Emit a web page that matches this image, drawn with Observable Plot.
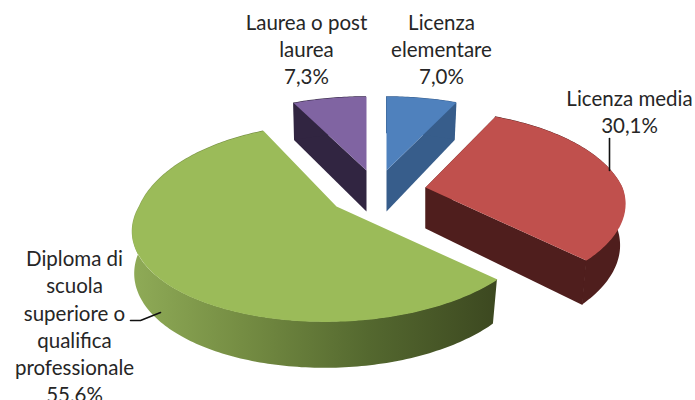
<!DOCTYPE html>
<html>
<head>
<meta charset="utf-8">
<script src="https://cdn.jsdelivr.net/npm/d3@7"></script>
<script src="https://cdn.jsdelivr.net/npm/@observablehq/plot@0.6"></script>
<style>html,body{margin:0;padding:0;background:#fff}svg{display:block}</style>
</head>
<body>
<div id="chart"></div>
<script>
// Data: in drawing order of the pie, clockwise from 12 o'clock
const categories = ["Licenza elementare", "Licenza media", "Diploma di scuola superiore o qualifica professionale", "Laurea o post laurea"];
const values = [7.0, 30.1, 55.6, 7.3];
const labelLines = [["Licenza", "elementare"], ["Licenza media"], ["Diploma di", "scuola", "superiore o", "qualifica", "professionale"], ["Laurea o post", "laurea"]];

// Styles
const topColors = ["#4f81bd", "#c0504d", "#9bbb59", "#8064a2"];
const wallColors = ["#375d8b", "#4f1e1d", "url(#greenWall)", "#312541"];
const radialColors = ["#375d8b", "#4f1e1d", "#4f612b", "#312541"];

// Layout of the exploded 3D pie
const apexes = [[386, 170], [425, 187], [336, 206], [366, 170]];
const backScale = [1, 1.04, 1.12, 1];
const labelPos = [[441, 21], [629, 97], [74, 257], [306, 21]];
const lineStep = [27, 27, 27.2, 27];
const leaders = [
  [[609, 138], [609, 170]],
  [[130, 320], [140, 320], [160, 312]]
];
const A = 197, B = 90, K = 0.22, DEPTH = 41, SHRINK_LEFT = 0.988, SHRINK_RIGHT = 0.975, SHEAR = 0.1;

const fmt = (v) => v.toFixed(1).replace(".", ",") + "%";
const total = d3.sum(values);

function project(phi, i) {
  const s = 1 / (1 + K * Math.cos(phi));
  const raw = -B * Math.cos(phi) * s;
  const dy = raw < 0 ? raw * backScale[i] : raw;
  const dx = A * Math.sin(phi) * s - SHEAR * Math.max(0, dy);
  return { dx, dy, s };
}
function topPoint(phi, i) {
  const { dx, dy } = project(phi, i);
  return { x: apexes[i][0] + dx, y: apexes[i][1] + dy };
}
function lowPoint(phi, i) {
  const { dx, dy, s } = project(phi, i);
  const shrink = dx < 0 ? SHRINK_LEFT : SHRINK_RIGHT;
  return { x: apexes[i][0] + dx * shrink, y: apexes[i][1] + dy + DEPTH * Math.sqrt(s) };
}

let acc = 0;
const slices = values.map((v, i) => {
  const a0 = acc / total * 2 * Math.PI;
  acc += v;
  const a1 = acc / total * 2 * Math.PI;
  const n = Math.ceil((a1 - a0) / (Math.PI / 180));
  const phis = d3.range(n + 1).map((k) => a0 + (a1 - a0) * k / n);
  return { i, a0, a1, phis, apex: apexes[i] };
});

function sliceMarks(sl) {
  const { i, a0, a1, phis, apex } = sl;
  const face = [{ x: apex[0], y: apex[1] }, ...phis.map((p) => topPoint(p, i))];
  const outer = phis.map((p) => {
    const t = topPoint(p, i), l = lowPoint(p, i);
    return { x1: t.x, y1: t.y, x2: l.x, y2: l.y };
  });
  const radial = (phi) => {
    const t = topPoint(phi, i), l = lowPoint(phi, i);
    return [{ x: apex[0], y: apex[1] }, { x: t.x, y: t.y }, { x: l.x, y: l.y }, { x: apex[0], y: apex[1] + DEPTH }];
  };
  const visibleWall = i === 2 ? [] : [a0, a1];
  return [
    ...visibleWall.map((p) => Plot.line(radial(p), { x: "x", y: "y", fill: radialColors[i], stroke: null, curve: "linear" })),
    Plot.area(outer, { x1: "x1", y1: "y1", x2: "x2", y2: "y2", fill: wallColors[i], curve: "linear" }),
    Plot.line(face, { x: "x", y: "y", fill: topColors[i], stroke: null, curve: "linear" })
  ];
}

const labelData = categories.map((c, i) => ({
  text: [...labelLines[i], fmt(values[i])].join("\n"),
  x: labelPos[i][0],
  y: labelPos[i][1] + lineStep[i] * labelLines[i].length / 2,
  step: lineStep[i]
}));

const defsMark = () => {
  const defs = d3.create("svg:defs");
  const g = defs.append("linearGradient").attr("id", "greenWall").attr("x1", 0).attr("x2", 1).attr("y1", 0).attr("y2", 0);
  [[0, "#8fab57"], [0.3, "#758d43"], [0.65, "#54682f"], [1, "#3c4820"]].forEach(([o, c]) => g.append("stop").attr("offset", o).attr("stop-color", c));
  return defs.node();
};

const draw = [3, 0, 1, 2];
const chart = Plot.plot({
  width: 695,
  height: 400,
  margin: 0,
  style: { background: "#fff", fontFamily: "Lato, 'Open Sans', sans-serif" },
  x: { domain: [0, 695], range: [0, 695], axis: null },
  y: { domain: [0, 400], range: [0, 400], axis: null },
  marks: [
    defsMark,
    draw.map((i) => sliceMarks(slices[i])),
    leaders.map((pts) => Plot.line(pts, { x: (d) => d[0], y: (d) => d[1], stroke: "#111", strokeWidth: 1.6, curve: "linear" })),
    labelData.map((d) => Plot.text([d], {
      x: "x", y: "y", text: "text", fill: "#262626", fontSize: 20.5, lineHeight: d.step / 20.5, lineAnchor: "middle", textAnchor: "middle"
    }))
  ]
});
document.getElementById("chart").appendChild(chart);
</script>
</body>
</html>
